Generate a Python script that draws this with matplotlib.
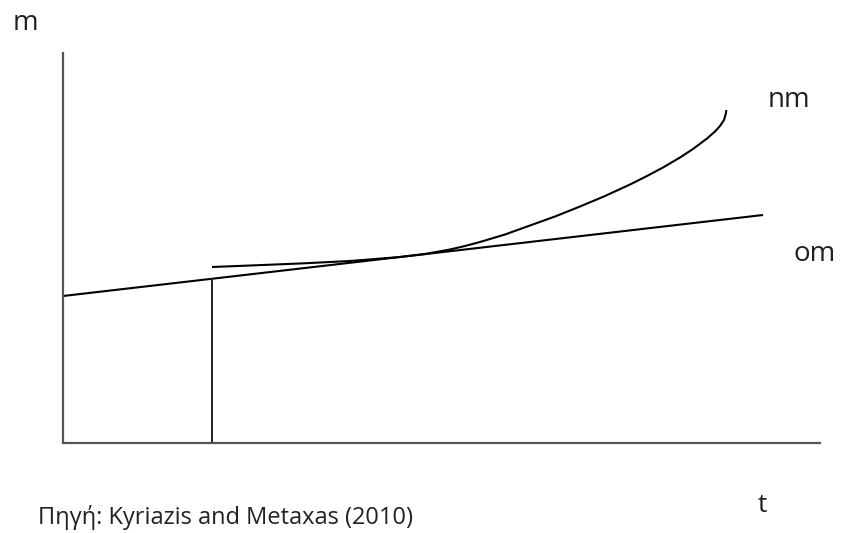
import numpy as np
import matplotlib.pyplot as plt

plt.rcParams['font.family'] = ['Open Sans', 'DejaVu Sans']

# values (arbitrary units: t across, m up)
om_t = [0, 700]
om_m = [147, 228]

nm_t = [149, 187, 237, 287, 337, 362, 387, 402, 417, 442, 467, 492, 517, 542,
        567, 584, 600, 617, 630, 644, 652, 657, 661, 663, 663.3]
nm_m = [176, 177.5, 179.5, 182, 186, 189, 193.5, 197, 201, 208.5, 217.5, 226.5, 236.5, 247,
        258.5, 267, 275.5, 285.5, 294, 304.5, 311.5, 317, 323, 330, 333]

drop_t = [149, 149]
drop_m = [0, 164]

W, H = 842, 533
fig = plt.figure(figsize=(W / 100, H / 100), dpi=100)
ax = fig.add_axes([63 / W, (H - 443) / H, (820 - 63) / W, (443 - 53) / H])
ax.set_xlim(0, 757)
ax.set_ylim(0, 390)

ax.plot(om_t, om_m, color="black", lw=1.5, solid_capstyle="butt")
ax.plot(nm_t, nm_m, color="black", lw=1.5, solid_capstyle="butt",
        solid_joinstyle="round")
ax.plot(drop_t, drop_m, color="#222222", lw=1.4)

for s in ["top", "right"]:
    ax.spines[s].set_visible(False)
for s in ["left", "bottom"]:
    ax.spines[s].set_color("#555555")
    ax.spines[s].set_linewidth(1.6)
ax.set_xticks([])
ax.set_yticks([])

def px_text(x, y, s, **kw):
    fig.text(x / W, 1 - y / H, s, color="#222222", **kw)

px_text(25, 23, "m", fontsize=20, va="center", ha="center")
px_text(789, 100, "nm", fontsize=20, va="center", ha="center")
px_text(815, 254, "om", fontsize=20, va="center", ha="center")
px_text(762, 506, "t", fontsize=19, va="center", ha="center")
px_text(38, 518, "Πηγή: Kyriazis and Metaxas (2010)", fontsize=17, va="center", ha="left")

fig.savefig("out.png", dpi=100)
